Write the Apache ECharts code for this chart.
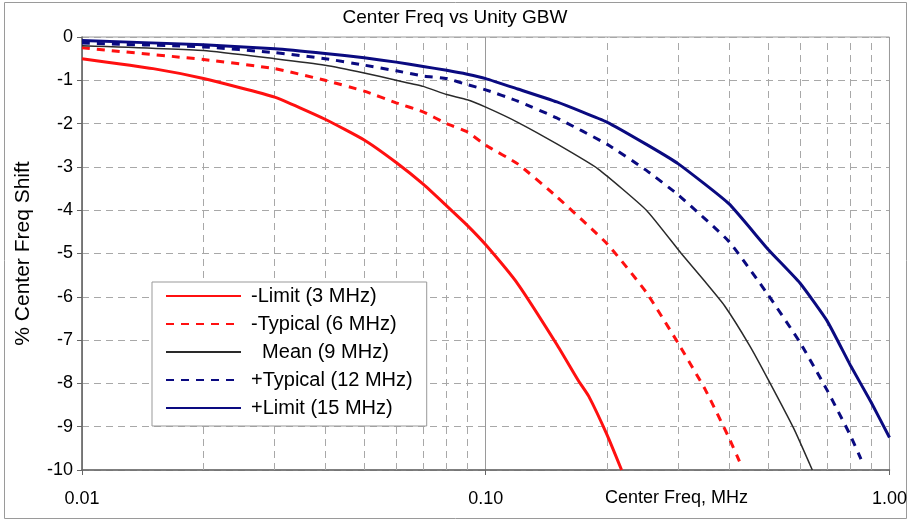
<!DOCTYPE html>
<html>
<head>
<meta charset="utf-8">
<script src="https://cdn.jsdelivr.net/npm/echarts@6/dist/echarts.min.js"></script>
<style>
html,body{margin:0;padding:0;background:#fff;}
#chart{width:910px;height:522px;}
</style>
</head>
<body>
<div id="chart"></div>
<script>
// ---- data ----
var seriesNames = ['-Limit (3 MHz)', '-Typical (6 MHz)', '  Mean (9 MHz)', '+Typical (12 MHz)', '+Limit (15 MHz)'];

var limLowF  = [0.01, 0.015, 0.02, 0.03, 0.04, 0.05, 0.06, 0.07, 0.08, 0.09, 0.10, 0.12, 0.15, 0.17, 0.18, 0.20, 0.217];
var limLowV  = [-0.50, -0.73, -0.96, -1.39, -1.90, -2.38, -2.90, -3.40, -3.90, -4.35, -4.80, -5.70, -7.10, -7.95, -8.30, -9.20, -10.0];

var typLowF  = [0.01, 0.02, 0.03, 0.04, 0.05, 0.06, 0.07, 0.08, 0.09, 0.10, 0.12, 0.15, 0.20, 0.25, 0.30, 0.35, 0.40, 0.425];
var typLowV  = [-0.25, -0.52, -0.73, -1.00, -1.25, -1.52, -1.73, -2.00, -2.19, -2.50, -2.93, -3.69, -4.78, -5.90, -7.08, -8.15, -9.25, -9.80];

var meanF    = [0.01, 0.02, 0.03, 0.04, 0.05, 0.06, 0.07, 0.08, 0.09, 0.10, 0.12, 0.15, 0.19, 0.25, 0.305, 0.35, 0.39, 0.45, 0.50, 0.58, 0.644];
var meanV    = [-0.20, -0.31, -0.50, -0.65, -0.83, -1.00, -1.14, -1.33, -1.45, -1.62, -1.97, -2.47, -3.05, -4.00, -5.00, -5.66, -6.20, -7.12, -7.90, -9.05, -10.0];

var typHighF = [0.01, 0.02, 0.03, 0.04, 0.05, 0.06, 0.07, 0.08, 0.09, 0.10, 0.12, 0.15, 0.20, 0.25, 0.30, 0.40, 0.50, 0.60, 0.70, 0.80, 0.85];
var typHighV = [-0.14, -0.23, -0.36, -0.50, -0.65, -0.78, -0.90, -0.96, -1.10, -1.22, -1.48, -1.87, -2.48, -3.08, -3.65, -4.72, -5.95, -7.05, -8.15, -9.20, -9.75];

var limHighF = [0.01, 0.02, 0.03, 0.04, 0.05, 0.06, 0.07, 0.08, 0.09, 0.10, 0.12, 0.15, 0.20, 0.25, 0.30, 0.40, 0.50, 0.60, 0.70, 0.80, 0.90, 1.00];
var limHighV = [-0.08, -0.18, -0.27, -0.38, -0.48, -0.58, -0.68, -0.77, -0.86, -0.96, -1.20, -1.50, -1.97, -2.48, -2.93, -3.85, -4.90, -5.68, -6.55, -7.58, -8.43, -9.25];

var minorGridF = [0.02, 0.03, 0.04, 0.05, 0.06, 0.07, 0.08, 0.09, 0.2, 0.3, 0.4, 0.5, 0.6, 0.7, 0.8, 0.9];

function pairs(f, v) { return f.map(function (x, i) { return [x, v[i]]; }); }

var FONT = 'Liberation Sans, Arial, sans-serif';
var chart = echarts.init(document.getElementById('chart'), null, {renderer: 'canvas'});

function lineSeries(name, f, v, color, width, dashed) {
  return {
    name: name, type: 'line', data: pairs(f, v), symbol: 'none', showSymbol: false,
    smooth: 0.15, z: 3, animation: false, clip: true,
    lineStyle: {color: color, width: width, type: dashed ? [8, 7] : 'solid'},
    itemStyle: {color: color}
  };
}

var option = {
  backgroundColor: '#ffffff',
  animation: false,
  title: {
    text: 'Center Freq vs Unity GBW', left: 'center', top: 3,
    textStyle: {fontFamily: FONT, fontSize: 19, fontWeight: 'normal', color: '#000'}
  },
  grid: {left: 82, right: 20, top: 37, bottom: 52, show: true, borderColor: '#9a9a9a', borderWidth: 1, backgroundColor: '#fff'},
  legend: {
    data: seriesNames, orient: 'vertical', left: 152, top: 282,
    padding: [4, 14, 8, 13], itemWidth: 75, itemHeight: 14, itemGap: 8,
    backgroundColor: '#fff', borderColor: '#999', borderWidth: 1,
    itemStyle: {opacity: 0},
    textStyle: {fontFamily: FONT, fontSize: 20, color: '#000', padding: [0, 0, 0, 5]}
  },
  xAxis: {
    type: 'log', logBase: 10, min: 0.01, max: 1,
    axisLine: {show: true, onZero: false, lineStyle: {color: '#666', width: 1.5}},
    axisTick: {show: true, length: 5, lineStyle: {color: '#666'}},
    axisLabel: {margin: 20, fontFamily: FONT, fontSize: 18, color: '#000',
      formatter: function (v) { return (+v).toFixed(2); }},
    splitLine: {show: true, lineStyle: {color: '#9a9a9a', width: 1}},
    minorTick: {show: false}
  },
  yAxis: {
    type: 'value', min: -10, max: 0, interval: 1,
    name: '% Center Freq Shift', nameLocation: 'middle', nameGap: 48,
    nameTextStyle: {fontFamily: FONT, fontSize: 21, color: '#000'},
    axisLine: {show: true, onZero: false, lineStyle: {color: '#666', width: 1.5}},
    axisTick: {show: true, length: 5, lineStyle: {color: '#666'}},
    axisLabel: {margin: 9, fontFamily: FONT, fontSize: 18, color: '#000'},
    splitLine: {show: true, lineStyle: {color: '#a8a8a8', width: 1, type: [7, 5]}}
  },
  graphic: [
    {type: 'rect', silent: true, z: -10, shape: {x: 4.5, y: 2.5, width: 902, height: 516},
      style: {fill: null, stroke: '#9a9a9a', lineWidth: 1}},
    {type: 'text', left: 605, top: 489, silent: true,
      style: {text: 'Center Freq, MHz', fontFamily: FONT, fontSize: 18, fill: '#000'}}
  ],
  series: [
    {
      name: 'minorGrid', type: 'line', data: [], silent: true, animation: false,
      markLine: {
        silent: true, z: 1, symbol: ['none', 'none'], animation: false,
        label: {show: false},
        lineStyle: {color: '#a8a8a8', width: 1, type: [7, 5]},
        data: minorGridF.map(function (x) { return {xAxis: x}; })
      }
    },
    lineSeries(seriesNames[0], limLowF, limLowV, '#ff1010', 3, false),
    lineSeries(seriesNames[1], typLowF, typLowV, '#ff1010', 3, true),
    lineSeries(seriesNames[2], meanF, meanV, '#2a2a2a', 1.5, false),
    lineSeries(seriesNames[3], typHighF, typHighV, '#0a0a80', 3, true),
    lineSeries(seriesNames[4], limHighF, limHighV, '#0a0a80', 3, false)
  ]
};
chart.setOption(option);
</script>
</body>
</html>
